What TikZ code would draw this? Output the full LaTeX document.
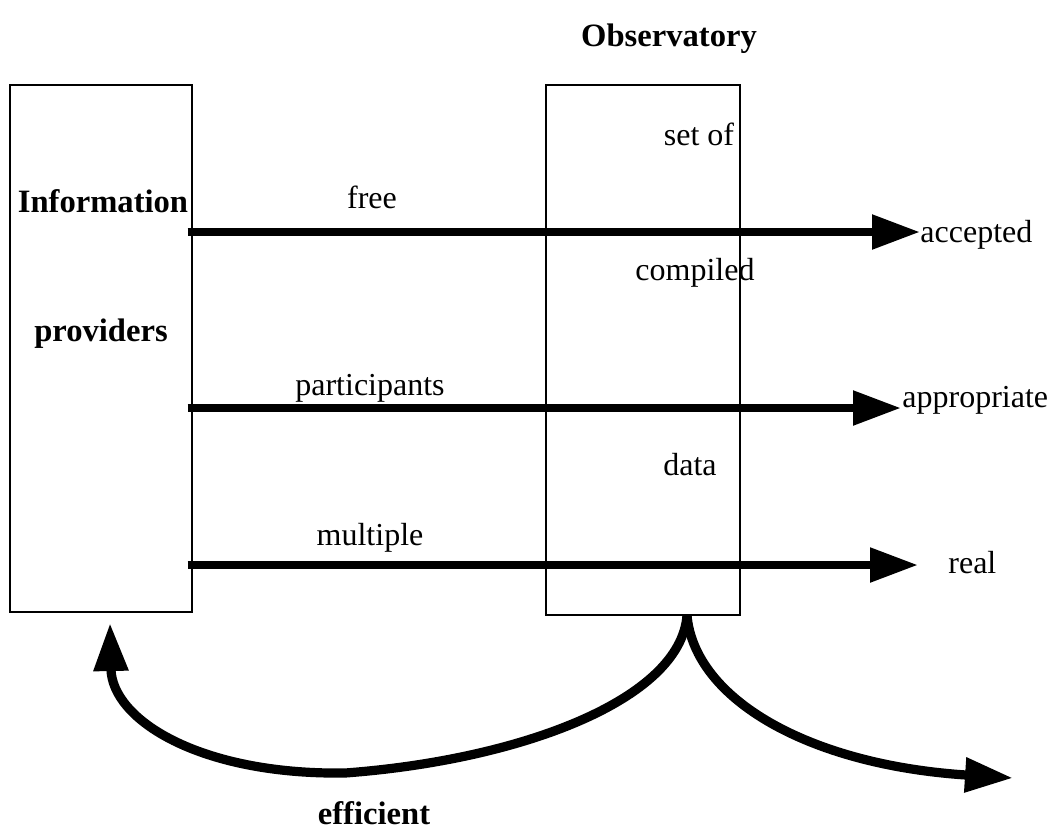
\documentclass[tikz,border=0pt]{standalone}
\usepackage{fontspec}
\setmainfont{Liberation Serif}
\usetikzlibrary{arrows.meta,positioning}

\begin{document}
\begin{tikzpicture}[x=0.5pt,y=-0.5pt,
  box/.style={draw,line width=0.7pt,minimum width=#1,inner sep=0pt},
  txt/.style={font=\fontsize{16}{19}\selectfont,inner sep=0pt,anchor=base},
  btxt/.style={txt,font=\fontsize{16.3}{19}\selectfont\bfseries},
  flow/.style={-{Triangle[length=24pt,width=16.5pt]},line width=4.2pt},
  loop/.style={-{Triangle[length=24pt,width=16.5pt]},line width=4.6pt}]
\useasboundingbox (0,0) rectangle (1052,832);
\node[box=91pt,minimum height=263.5pt] (prov) at (101,348.5) {};
\node[box=97pt,minimum height=265pt] (obs) at (643,350) {};
\node[btxt] (title) at (669,46) {Observatory};
\node[btxt] (info) at (103,212) {Information};
\node[btxt] (provs) at (101,341) {providers};
\node[txt] (setof) at (699,145) {set of};
\node[txt] (comp) at (695,280) {compiled};
\node[txt] (data) at (690,475) {data};
\node[txt] (free) at (372,208) {free};
\node[txt] (part) at (370,395) {participants};
\node[txt] (mult) at (370,545) {multiple};
\node[btxt] (effi) at (374,824) {efficient};
% arrow tips and the words after them
\coordinate (t1) at (920,232);
\coordinate (t2) at (901,408);
\coordinate (t3) at (918,565);
\node[txt,anchor=base west] (acc) at (920,242) {accepted};
\node[txt,anchor=base west] (appr) at (902,407) {appropriate};
\node[txt,anchor=base west] (real) at (948,573) {real};
\foreach \t in {t1,t2,t3} \draw[flow,shorten <=-2.5pt] (prov.east |- \t)--(\t);
% feedback
\coordinate (root) at ([xshift=22pt]obs.south);
\coordinate (back) at (110,623);
\coordinate (out) at (1013,778);
\draw[loop] (root) .. controls (680,700) and (520,760) .. (345,773)
  .. controls (200,775) and (112,720) .. (back);
\draw[loop] (root) .. controls (695,700) and (810,765) .. (out);
\end{tikzpicture}
\end{document}
